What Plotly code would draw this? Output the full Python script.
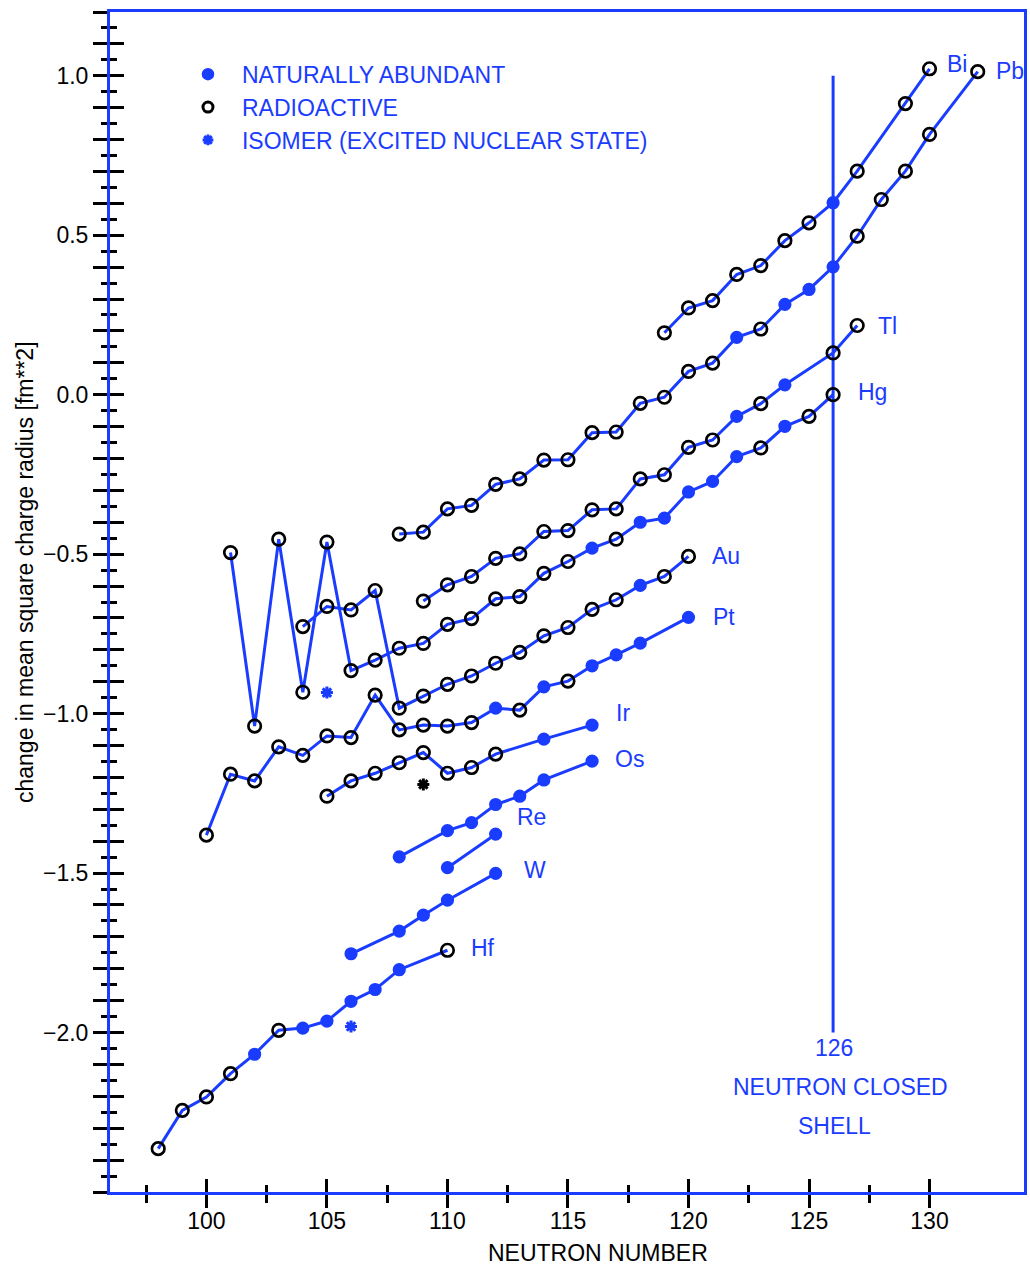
import plotly.graph_objects as go

BLUE = "#1a3cff"
FONT = "Liberation Sans, Arial, sans-serif"

# ---------------- data: change in mean square charge radius [fm^2] ----------------
# natural flag: 1 = naturally abundant (filled), 0 = radioactive (open)
hf_n = [98, 99, 100, 101, 102, 103, 104, 105, 106, 107, 108, 110]
hf_v = [-2.364, -2.244, -2.202, -2.129, -2.068, -1.993, -1.986, -1.964, -1.902, -1.865, -1.803, -1.742]
hf_nat = [0, 0, 0, 0, 1, 0, 1, 1, 1, 1, 1, 0]

w_n = [106, 108, 109, 110, 112]
w_v = [-1.753, -1.682, -1.632, -1.585, -1.501]
w_nat = [1, 1, 1, 1, 1]

re_n = [110, 112]
re_v = [-1.483, -1.378]
re_nat = [1, 1]

os_n = [108, 110, 111, 112, 113, 114, 116]
os_v = [-1.449, -1.367, -1.342, -1.285, -1.259, -1.208, -1.149]
os_nat = [1, 1, 1, 1, 1, 1, 1]

ir_n = [105, 106, 107, 108, 109, 110, 111, 112, 114, 116]
ir_v = [-1.259, -1.211, -1.187, -1.154, -1.122, -1.187, -1.169, -1.127, -1.080, -1.036]
ir_nat = [0, 0, 0, 0, 0, 0, 0, 0, 1, 1]

pt_n = [100, 101, 102, 103, 104, 105, 106, 107, 108, 109, 110, 111, 112, 113, 114, 115, 116, 117, 118, 120]
pt_v = [-1.381, -1.190, -1.211, -1.104, -1.131, -1.070, -1.075, -0.942, -1.051, -1.036,
        -1.039, -1.028, -0.983, -0.989, -0.916, -0.898, -0.850, -0.816, -0.779, -0.698]
pt_nat = [0, 0, 0, 0, 0, 0, 0, 0, 0, 0, 0, 0, 1, 0, 1, 0, 1, 1, 1, 1]

au_n = [104, 105, 106, 107, 108, 109, 110, 111, 112, 113, 114, 115, 116, 117, 118, 119, 120]
au_v = [-0.727, -0.664, -0.675, -0.614, -0.983, -0.945, -0.908, -0.882, -0.842, -0.808,
        -0.756, -0.730, -0.673, -0.643, -0.598, -0.570, -0.507]
au_nat = [0, 0, 0, 0, 0, 0, 0, 0, 0, 0, 0, 0, 0, 0, 1, 0, 0]

hg_n = [101, 102, 103, 104, 105, 106, 107, 108, 109, 110, 111, 112, 113, 114, 115, 116,
        117, 118, 119, 120, 121, 122, 123, 124, 125, 126]
hg_v = [-0.495, -1.039, -0.453, -0.933, -0.462, -0.865, -0.832, -0.795, -0.780, -0.720,
        -0.702, -0.640, -0.633, -0.560, -0.523, -0.481, -0.453, -0.400, -0.387, -0.305,
        -0.272, -0.194, -0.167, -0.099, -0.068, 0.000]
hg_nat = [0, 0, 0, 0, 0, 0, 0, 0, 0, 0, 0, 0, 0, 0, 0, 1, 0, 1, 1, 1, 1, 1, 0, 1, 0, 0]

tl_n = [109, 110, 111, 112, 113, 114, 115, 116, 117, 118, 119, 120, 121, 122, 123, 124, 126, 127]
tl_v = [-0.647, -0.596, -0.570, -0.513, -0.499, -0.429, -0.426, -0.361, -0.358, -0.264,
        -0.251, -0.165, -0.142, -0.068, -0.028, 0.031, 0.131, 0.217]
tl_nat = [0, 0, 0, 0, 0, 0, 0, 0, 0, 0, 0, 0, 0, 1, 0, 1, 0, 0]

pb_n = [108, 109, 110, 111, 112, 113, 114, 115, 116, 117, 118, 119, 120, 121, 122, 123,
        124, 125, 126, 127, 128, 129, 130, 132]
pb_v = [-0.437, -0.431, -0.358, -0.347, -0.281, -0.264, -0.205, -0.204, -0.119, -0.117,
        -0.027, -0.008, 0.073, 0.099, 0.180, 0.206, 0.283, 0.330, 0.401, 0.497, 0.612,
        0.701, 0.816, 1.013]
pb_nat = [0, 0, 0, 0, 0, 0, 0, 0, 0, 0, 0, 0, 0, 0, 1, 0, 1, 1, 1, 0, 0, 0, 0, 0]

bi_n = [119, 120, 121, 122, 123, 124, 125, 126, 127, 129, 130]
bi_v = [0.194, 0.272, 0.295, 0.377, 0.405, 0.483, 0.539, 0.602, 0.701, 0.913, 1.022]
bi_nat = [0, 0, 0, 0, 0, 0, 0, 1, 0, 0, 0]

# isomers (excited nuclear states)
iso_n = [105, 106, 109]
iso_v = [-0.934, -1.981, -1.222]
iso_color = [BLUE, BLUE, "black"]

elements = ["Hf", "W", "Re", "Os", "Ir", "Pt", "Au", "Hg", "Tl", "Pb", "Bi"]
series = {
    "Hf": (hf_n, hf_v, hf_nat), "W": (w_n, w_v, w_nat), "Re": (re_n, re_v, re_nat),
    "Os": (os_n, os_v, os_nat), "Ir": (ir_n, ir_v, ir_nat), "Pt": (pt_n, pt_v, pt_nat),
    "Au": (au_n, au_v, au_nat), "Hg": (hg_n, hg_v, hg_nat), "Tl": (tl_n, tl_v, tl_nat),
    "Pb": (pb_n, pb_v, pb_nat), "Bi": (bi_n, bi_v, bi_nat),
}

shell_n = 126
shell_range = [-2.0, 1.0]

x_ticks = [100, 105, 110, 115, 120, 125, 130]
x_minor = [97.5, 102.5, 107.5, 112.5, 117.5, 122.5, 127.5]
y_ticks = [round(-2.5 + 0.1 * i, 2) for i in range(38)]
y_labels = {1.0: "1.0", 0.5: "0.5", 0.0: "0.0", -0.5: "−0.5", -1.0: "−1.0", -1.5: "−1.5", -2.0: "−2.0"}
y_text = [y_labels.get(v, "") for v in y_ticks]
y_minor = [round(-2.45 + 0.1 * i, 2) for i in range(37)]

# label offsets (pixels) relative to each chain's last point
label_off = {"Bi": (15, 5), "Pb": (16, 1), "Tl": (19, 0), "Hg": (23, 3), "Au": (22, 0),
             "Pt": (23, 0), "Ir": (22, 12), "Os": (21, 2), "Re": (19, 17), "W": (26, 3),
             "Hf": (22, 2)}

fig = go.Figure()

for el in elements:
    n, v, nat = series[el]
    cols = [BLUE if k else "black" for k in nat]
    fig.add_trace(go.Scatter(
        x=n, y=v, mode="lines+markers", showlegend=False, name=el,
        line=dict(color=BLUE, width=3),
        marker=dict(
            symbol=["circle" if k else "circle-open" for k in nat],
            color=cols, opacity=1,
            size=[10.5 if k else 12.5 for k in nat],
            line=dict(width=2.7, color=cols),
        ),
    ))

fig.add_trace(go.Scatter(
    x=iso_n, y=iso_v, mode="markers", showlegend=False,
    marker=dict(symbol="asterisk-open", size=10, color=iso_color, opacity=1,
                line=dict(width=3, color=iso_color)),
))

# legend entries
fig.add_trace(go.Scatter(x=[None], y=[None], mode="markers", name="NATURALLY ABUNDANT",
                         marker=dict(symbol="circle", size=11, color=BLUE, line=dict(width=1.5, color=BLUE))))
fig.add_trace(go.Scatter(x=[None], y=[None], mode="markers", name="RADIOACTIVE",
                         marker=dict(symbol="circle-open", size=10, color="black", line=dict(width=3, color="black"))))
fig.add_trace(go.Scatter(x=[None], y=[None], mode="markers", name="ISOMER (EXCITED NUCLEAR STATE)",
                         marker=dict(symbol="asterisk-open", size=9, color=BLUE, line=dict(width=3, color=BLUE))))
# invisible trace on the overlay axes so they get drawn
fig.add_trace(go.Scatter(x=[None], y=[None], xaxis="x2", yaxis="y2", showlegend=False, hoverinfo="skip"))

fig.add_shape(type="line", x0=shell_n, x1=shell_n, y0=shell_range[0], y1=shell_range[1],
              line=dict(color=BLUE, width=3), layer="below")

for el in elements:
    n, v, nat = series[el]
    dx, dy = label_off[el]
    fig.add_annotation(x=n[-1], y=v[-1], text=el, showarrow=False, xanchor="left", yanchor="middle",
                       xshift=dx, yshift=dy, font=dict(color=BLUE, size=23, family=FONT))

for txt, dy, dx in [("126", -15, 1), ("NEUTRON CLOSED", -54, 7), ("SHELL", -93, 1)]:
    fig.add_annotation(x=shell_n, y=shell_range[0], text=txt, showarrow=False, xanchor="center",
                       yanchor="middle", yshift=dy, xshift=dx, font=dict(color=BLUE, size=23, family=FONT))

fig.add_annotation(xref="paper", yref="paper", x=0.5338, y=0, yshift=-61, text="NEUTRON NUMBER",
                   showarrow=False, xanchor="center", yanchor="middle",
                   font=dict(color="black", size=23, family=FONT))
fig.add_annotation(xref="paper", yref="paper", x=0, y=0.5254, xshift=-85,
                   text="change in mean square charge radius [fm**2]", textangle=-90,
                   showarrow=False, xanchor="center", yanchor="middle",
                   font=dict(color="black", size=23, family=FONT))

XR = [96, 133.92]
YR = [-2.5, 1.2]

fig.update_layout(
    width=1030, height=1268,
    margin=dict(l=110, r=3, t=12, b=76),
    paper_bgcolor="white", plot_bgcolor="white",
    font=dict(family=FONT, size=23, color="black"),
    showlegend=True,
    legend=dict(x=0.07, y=0.9655, xanchor="left", yanchor="top", bgcolor="rgba(0,0,0,0)",
                font=dict(color=BLUE, size=23, family=FONT), itemwidth=58, tracegroupgap=0),
    xaxis=dict(range=XR, showgrid=False, zeroline=False, showline=True, linecolor=BLUE, linewidth=3,
               mirror=True, ticks="outside", tickmode="array", tickvals=x_ticks,
               ticktext=[str(t) for t in x_ticks], ticklen=13, tickwidth=3, tickcolor="black",
               tickfont=dict(size=23, color="black"), ticklabelstandoff=-7,
               minor=dict(tickmode="array", tickvals=x_minor, ticklen=8, tickwidth=3, tickcolor="black",
                          ticks="outside")),
    yaxis=dict(range=YR, showgrid=False, zeroline=False, showline=True, linecolor=BLUE, linewidth=3,
               mirror=True, ticks="outside", tickmode="array", tickvals=y_ticks, ticktext=y_text,
               ticklen=14, tickwidth=3, tickcolor="black", tickfont=dict(size=23, color="black"),
               minor=dict(tickmode="array", tickvals=y_minor, ticklen=6, tickwidth=3, tickcolor="black",
                          ticks="outside")),
    xaxis2=dict(range=XR, overlaying="x", anchor="y", side="bottom", showgrid=False, zeroline=False,
                showline=False, ticks="inside", tickmode="array", tickvals=x_ticks, ticklen=13,
                tickwidth=3, tickcolor="black", showticklabels=False,
                minor=dict(tickmode="array", tickvals=x_minor, ticklen=7, tickwidth=3, tickcolor="black",
                           ticks="inside")),
    yaxis2=dict(range=YR, overlaying="y", anchor="x", side="left", showgrid=False, zeroline=False,
                showline=False, ticks="inside", tickmode="array", tickvals=y_ticks, ticklen=14,
                tickwidth=3, tickcolor="black", showticklabels=False,
                minor=dict(tickmode="array", tickvals=y_minor, ticklen=7, tickwidth=3, tickcolor="black",
                           ticks="inside")),
)

fig.write_html("out.html")
